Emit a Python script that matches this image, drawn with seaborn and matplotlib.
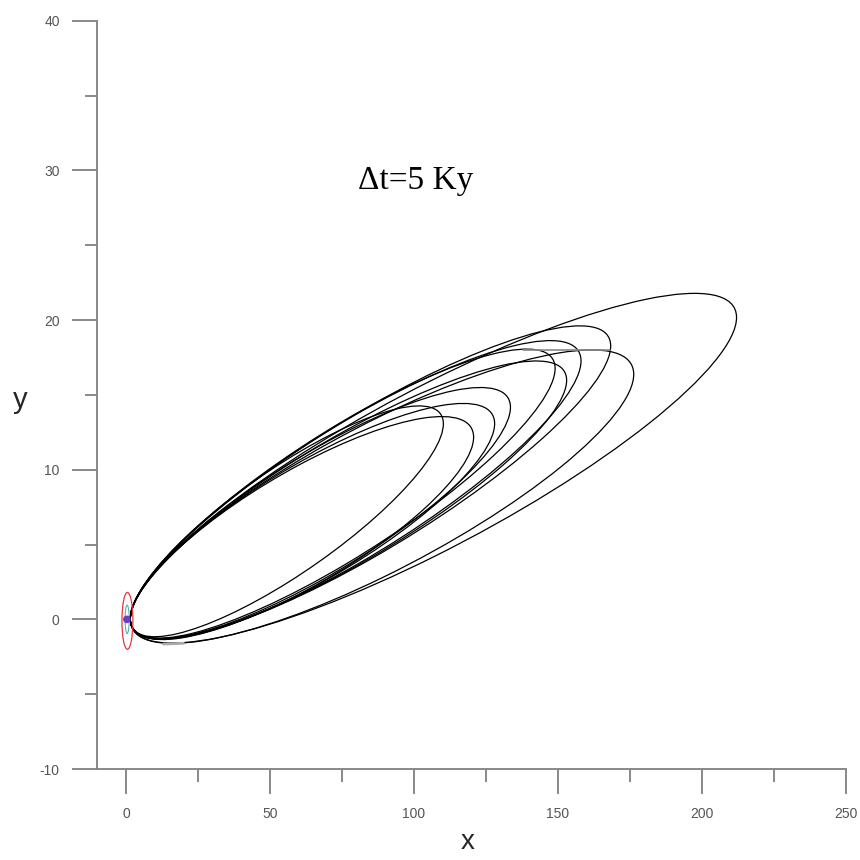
import numpy as np
import matplotlib
matplotlib.use("Agg")
import matplotlib.pyplot as plt
from matplotlib.patches import Ellipse
from matplotlib.ticker import MultipleLocator
import seaborn as sns

# orbit loops: far tip (apoapsis) and half thickness, all loops start near the origin
tip_x = [212.0, 176.3, 168.3, 158.0, 153.0, 149.0, 133.5, 128.0, 120.7, 110.2]
tip_y = [20.2, 16.4, 18.3, 17.3, 16.0, 16.8, 14.2, 13.1, 12.2, 13.1]
half_width = [5.9, 5.4, 5.1, 5.0, 4.7, 4.8, 4.5, 4.4, 4.3, 4.1]
peri_x, peri_y = 1.5, 0.0

# stray gray segments in the plot
seg_top_x = [138.0, 168.0]
seg_top_y = [18.0, 18.0]
seg_low_x = [13.0, 20.0]
seg_low_y = [-1.65, -1.6]

# central body
star_x = [0.3]
star_y = [0.0]

sns.set_theme(style="white")
plt.rcParams["font.family"] = ["Liberation Sans", "DejaVu Sans"]
plt.rcParams["axes.unicode_minus"] = False

fig = plt.figure(figsize=(8.6, 8.6), dpi=100)
ax = fig.add_axes([0.113, 0.1058, 0.8707, 0.8701])

for tx, ty, hw in zip(tip_x, tip_y, half_width):
    dx = tx - peri_x
    dy = ty - peri_y
    ell = Ellipse(((tx + peri_x) / 2, (ty + peri_y) / 2), np.hypot(dx, dy), 2 * hw,
                  angle=np.degrees(np.arctan2(dy, dx)), fill=False,
                  edgecolor="black", lw=0.9)
    ax.add_patch(ell)

sns.lineplot(x=seg_top_x, y=seg_top_y, ax=ax, color="#888888", lw=1.2)
sns.lineplot(x=seg_low_x, y=seg_low_y, ax=ax, color="#aaaaaa", lw=2.0)

# small red orbit and inner orbit around the center
ax.add_patch(Ellipse((0.5, -0.1), 3.8, 3.8, fill=False, edgecolor="#e0393e", lw=0.9))
ax.add_patch(Ellipse((0.4, 0.0), 1.4, 1.9, fill=False, edgecolor="#5fb3a8", lw=0.8))
sns.scatterplot(x=star_x, y=star_y, ax=ax, color="#6a3cc8", s=30, edgecolor="none", zorder=5)

ax.text(100.7, 29.3, "Δt=5 Ky", family=["Liberation Serif", "DejaVu Serif"],
        fontsize=24, ha="center", va="center", color="black")

ax.set_xlim(-10, 250)
ax.set_ylim(-10, 40)
ax.xaxis.set_major_locator(MultipleLocator(50))
ax.xaxis.set_minor_locator(MultipleLocator(25))
ax.yaxis.set_major_locator(MultipleLocator(10))
ax.yaxis.set_minor_locator(MultipleLocator(5))

sns.despine(ax=ax)
for side in ["left", "bottom"]:
    ax.spines[side].set_color("#808080")
    ax.spines[side].set_linewidth(1.3)

ax.tick_params(which="major", direction="out", length=18, width=1.3, color="#808080",
               labelsize=10, labelcolor="#555555", pad=9)
ax.tick_params(which="minor", direction="out", length=9, width=1.3, color="#808080")
ax.tick_params(axis="both", which="both", bottom=True, left=True)

ax.set_xlabel("x", fontsize=20)
ax.set_ylabel("y", fontsize=21, rotation=0)
ax.xaxis.set_label_coords(0.495, -0.1075)
ax.yaxis.set_label_coords(-0.103, 0.493)
ax.xaxis.label.set_va("baseline")
ax.yaxis.label.set_va("center")

fig.savefig("out.png", dpi=100)
